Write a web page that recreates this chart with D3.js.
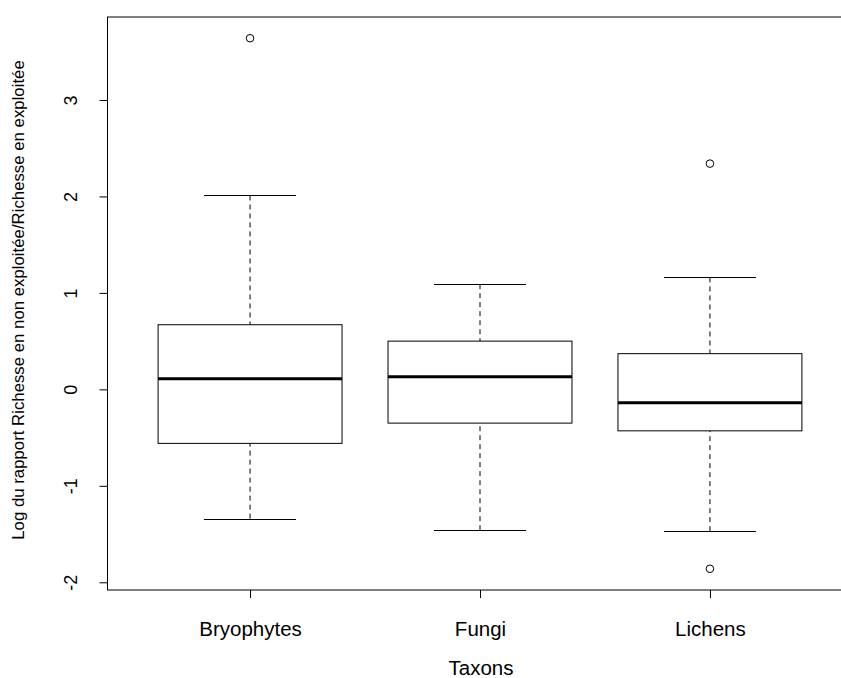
<!DOCTYPE html>
<html>
<head>
<meta charset="utf-8">
<script src="https://cdn.jsdelivr.net/npm/d3@7"></script>
<style>
  body { margin: 0; background: #fff; }
  text { font-family: "Liberation Sans", Arial, sans-serif; fill: #000; }
</style>
</head>
<body>
<svg id="chart" width="841" height="678"></svg>
<script>
const categories  = ['Bryophytes', 'Fungi', 'Lichens'];
const whiskerLow  = [-1.34, -1.46, -1.47];
const q1          = [-0.56, -0.35, -0.43];
const medians     = [0.11, 0.13, -0.14];
const q3          = [0.67, 0.50, 0.37];
const whiskerHigh = [2.01, 1.09, 1.16];
const outliers    = [[3.64], [], [2.34, -1.86]];
const yTicks      = [-2, -1, 0, 1, 2, 3];
const yTitle = 'Log du rapport Richesse en non exploitée/Richesse en exploitée';
const xTitle = 'Taxons';

const svg = d3.select('#chart');
const plot = { left: 107.5, right: 852.5, top: 17, bottom: 590 };

// R style: extend data range by 4% on each side
const allVals = whiskerLow.concat(whiskerHigh, outliers.flat());
const [lo, hi] = d3.extent(allVals);
const pad = (hi - lo) * 0.04;
const y = d3.scaleLinear()
    .domain([lo - pad, hi + pad])
    .range([plot.bottom, plot.top]);
const x = d3.scalePoint()
    .domain(categories)
    .range([plot.left, plot.right])
    .padding(0.62);
const boxW = x.step() * 0.8;

const boxes = categories.map((c, i) => ({
    name: c, lo: whiskerLow[i], q1: q1[i], med: medians[i], q3: q3[i],
    hi: whiskerHigh[i], out: outliers[i]
}));

const g = svg.append('g');

// whiskers (dashed)
g.selectAll('.whisk-lo').data(boxes).enter().append('line')
    .attr('x1', d => x(d.name)).attr('x2', d => x(d.name))
    .attr('y1', d => y(d.lo)).attr('y2', d => y(d.q1))
    .attr('stroke', '#000').attr('stroke-dasharray', '5,4');
g.selectAll('.whisk-hi').data(boxes).enter().append('line')
    .attr('x1', d => x(d.name)).attr('x2', d => x(d.name))
    .attr('y1', d => y(d.hi)).attr('y2', d => y(d.q3))
    .attr('stroke', '#000').attr('stroke-dasharray', '5,4');

// staples
['lo', 'hi'].forEach(k => {
    g.selectAll('.staple-' + k).data(boxes).enter().append('line')
        .attr('x1', d => x(d.name) - boxW / 4).attr('x2', d => x(d.name) + boxW / 4)
        .attr('y1', d => Math.round(y(d[k])) + 0.5).attr('y2', d => Math.round(y(d[k])) + 0.5)
        .attr('stroke', '#000');
});

// boxes
g.selectAll('.box').data(boxes).enter().append('rect')
    .attr('x', d => x(d.name) - boxW / 2)
    .attr('y', d => y(d.q3))
    .attr('width', boxW)
    .attr('height', d => y(d.q1) - y(d.q3))
    .attr('fill', '#fff').attr('stroke', '#000');

// medians
g.selectAll('.median').data(boxes).enter().append('line')
    .attr('x1', d => x(d.name) - boxW / 2).attr('x2', d => x(d.name) + boxW / 2)
    .attr('y1', d => y(d.med)).attr('y2', d => y(d.med))
    .attr('stroke', '#000').attr('stroke-width', 3);

// outliers
const outPts = boxes.flatMap(d => d.out.map(v => ({ name: d.name, v })));
g.selectAll('.out').data(outPts).enter().append('circle')
    .attr('cx', d => x(d.name)).attr('cy', d => y(d.v))
    .attr('r', 3.8).attr('fill', 'none').attr('stroke', '#000');

// frame
svg.append('rect')
    .attr('x', plot.left).attr('y', plot.top)
    .attr('width', plot.right - plot.left).attr('height', plot.bottom - plot.top)
    .attr('fill', 'none').attr('stroke', '#000');

// y axis
const yAxis = svg.append('g')
    .attr('transform', `translate(${plot.left},0)`)
    .call(d3.axisLeft(y).tickValues(yTicks).tickSize(8).tickSizeOuter(0).tickFormat(d => String(d)));
yAxis.select('.domain').remove();
yAxis.selectAll('.tick line').attr('stroke', '#000');
yAxis.selectAll('.tick text')
    .attr('x', null).attr('dy', null)
    .attr('transform', 'translate(-31,0) rotate(-90)')
    .attr('text-anchor', 'middle')
    .style('font-size', '18px')
    .style('font-family', '"Liberation Sans", Arial, sans-serif')
    .attr('fill', '#000');

// x axis
const xAxis = svg.append('g')
    .attr('transform', `translate(0,${plot.bottom})`)
    .call(d3.axisBottom(x).tickSize(8).tickSizeOuter(0));
xAxis.select('.domain').remove();
xAxis.selectAll('.tick line').attr('stroke', '#000');
xAxis.selectAll('.tick text')
    .attr('y', 46).attr('dy', null)
    .style('font-size', '20.5px')
    .style('font-family', '"Liberation Sans", Arial, sans-serif')
    .attr('fill', '#000');

// titles
svg.append('text')
    .attr('x', 481).attr('y', 675)
    .attr('text-anchor', 'middle')
    .style('font-size', '20.5px')
    .text(xTitle);
svg.append('text')
    .attr('transform', `translate(24,300) rotate(-90)`)
    .attr('text-anchor', 'middle')
    .style('font-size', '16.8px')
    .text(yTitle);
</script>
</body>
</html>
